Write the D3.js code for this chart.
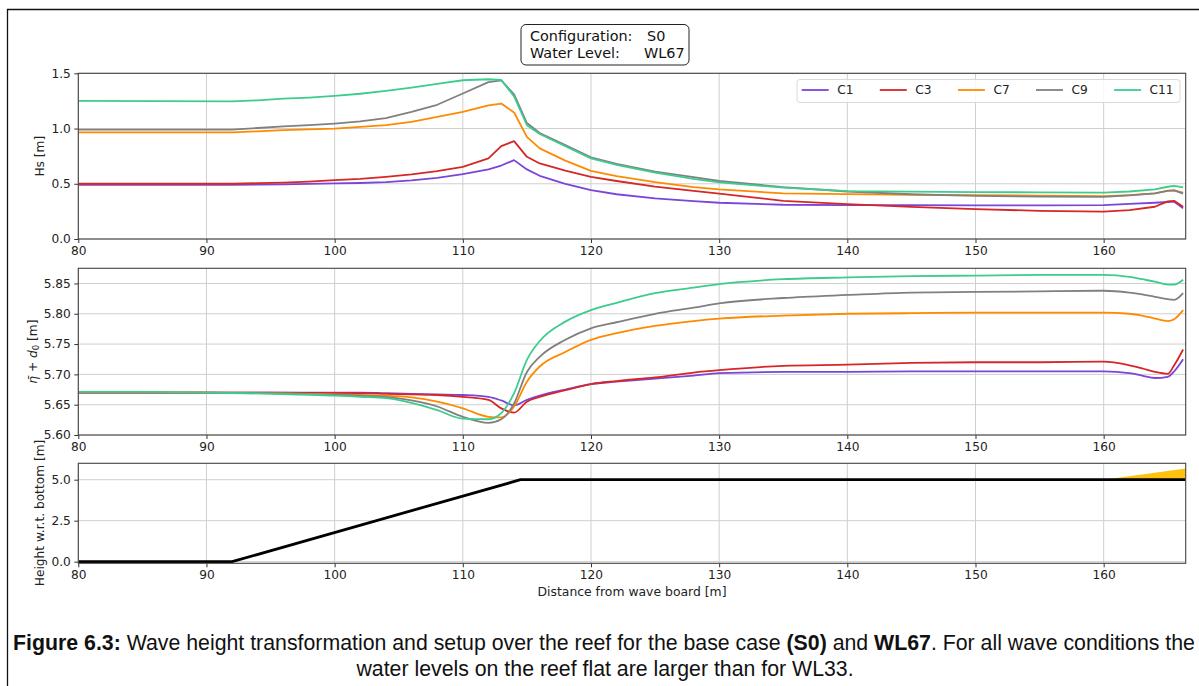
<!DOCTYPE html>
<html>
<head>
<meta charset="utf-8">
<script src="https://cdn.jsdelivr.net/npm/d3@7"></script>
<style>
  body { margin: 0; background: #fff; }
  svg { display: block; font-family: "DejaVu Sans", sans-serif; }
  .caption { font-family: "Liberation Sans", Arial, sans-serif; }
</style>
</head>
<body>
<svg id="fig" width="1199" height="686"></svg>
<script>
// ---- data ---------------------------------------------------------------
// significant wave height Hs [m] along the flume
const hsX   = [80, 92, 94, 96, 98, 100, 102, 104, 106, 108, 110, 112, 113, 114, 115, 116, 118, 120, 122, 125, 128, 130, 135, 140, 145, 150, 155, 160, 162, 164, 165, 165.5, 166.2];
const hsC1  = [0.49, 0.49, 0.492, 0.495, 0.499, 0.503, 0.507, 0.515, 0.53, 0.554, 0.587, 0.63, 0.665, 0.714, 0.63, 0.572, 0.50, 0.443, 0.405, 0.368, 0.342, 0.328, 0.31, 0.307, 0.306, 0.305, 0.305, 0.307, 0.318, 0.328, 0.335, 0.338, 0.277];
const hsC3  = [0.50, 0.50, 0.505, 0.51, 0.52, 0.533, 0.545, 0.563, 0.585, 0.614, 0.653, 0.729, 0.84, 0.886, 0.744, 0.684, 0.62, 0.563, 0.525, 0.475, 0.435, 0.41, 0.346, 0.316, 0.29, 0.271, 0.255, 0.247, 0.262, 0.292, 0.34, 0.346, 0.292];
const hsC7  = [0.965, 0.965, 0.975, 0.985, 0.993, 1.0, 1.015, 1.03, 1.06, 1.105, 1.15, 1.21, 1.226, 1.145, 0.925, 0.82, 0.71, 0.617, 0.57, 0.515, 0.47, 0.449, 0.413, 0.407, 0.40, 0.398, 0.393, 0.389, 0.398, 0.413, 0.437, 0.44, 0.42];
const hsC9  = [0.99, 0.99, 1.005, 1.02, 1.03, 1.045, 1.065, 1.095, 1.15, 1.215, 1.317, 1.42, 1.435, 1.31, 1.05, 0.96, 0.85, 0.74, 0.68, 0.61, 0.56, 0.525, 0.47, 0.43, 0.405, 0.39, 0.384, 0.382, 0.395, 0.413, 0.435, 0.44, 0.41];
const hsC11 = [1.25, 1.245, 1.255, 1.27, 1.28, 1.295, 1.315, 1.34, 1.37, 1.405, 1.437, 1.446, 1.44, 1.29, 1.03, 0.95, 0.84, 0.73, 0.67, 0.60, 0.545, 0.512, 0.465, 0.434, 0.428, 0.425, 0.422, 0.419, 0.43, 0.449, 0.473, 0.48, 0.467];

// mean water level plus still water depth [m]
const wlX   = [80, 85, 90, 95, 100, 102, 104, 106, 108, 110, 112, 113, 114, 115, 116, 118, 120, 122, 125, 128, 130, 135, 140, 145, 150, 155, 160, 162, 163, 164, 165, 165.5, 166.2];
const wlC1  = [5.670, 5.670, 5.670, 5.670, 5.670, 5.670, 5.669, 5.668, 5.667, 5.666, 5.663, 5.657, 5.649, 5.658, 5.665, 5.675, 5.684, 5.688, 5.693, 5.698, 5.702, 5.704, 5.704, 5.705, 5.705, 5.705, 5.705, 5.702, 5.698, 5.694, 5.696, 5.705, 5.725];
const wlC3  = [5.670, 5.670, 5.670, 5.670, 5.669, 5.669, 5.668, 5.667, 5.666, 5.663, 5.658, 5.644, 5.637, 5.655, 5.663, 5.674, 5.684, 5.689, 5.695, 5.703, 5.707, 5.714, 5.716, 5.719, 5.720, 5.720, 5.721, 5.715, 5.710, 5.704, 5.701, 5.715, 5.741];
const wlC7  = [5.670, 5.670, 5.670, 5.669, 5.667, 5.666, 5.665, 5.662, 5.655, 5.644, 5.630, 5.629, 5.647, 5.688, 5.713, 5.737, 5.757, 5.768, 5.780, 5.788, 5.792, 5.797, 5.800, 5.801, 5.802, 5.802, 5.802, 5.800, 5.797, 5.792, 5.788, 5.791, 5.806];
const wlC9  = [5.670, 5.670, 5.670, 5.669, 5.666, 5.665, 5.663, 5.657, 5.647, 5.630, 5.620, 5.626, 5.652, 5.704, 5.729, 5.757, 5.776, 5.786, 5.800, 5.810, 5.817, 5.826, 5.831, 5.835, 5.836, 5.837, 5.838, 5.835, 5.832, 5.828, 5.824, 5.823, 5.834];
const wlC11 = [5.671, 5.671, 5.670, 5.668, 5.665, 5.663, 5.661, 5.653, 5.641, 5.627, 5.626, 5.636, 5.669, 5.724, 5.755, 5.787, 5.806, 5.818, 5.834, 5.843, 5.849, 5.857, 5.860, 5.862, 5.863, 5.864, 5.864, 5.861, 5.857, 5.853, 5.848, 5.848, 5.856];

// reef profile (height above flume bottom) and the beach wedge behind the flat
const bedX = [80, 92, 114.5, 166.4];
const bedZ = [0, 0, 5, 5];
const beachX   = [160, 166.4];
const beachTop = [5.0, 5.68];
const beachBot = [5.0, 5.0];

const caseNames  = ["C1", "C3", "C7", "C9", "C11"];
const caseColors = ["#7b45d9", "#d62728", "#ff8a00", "#808080", "#3dcc8e"];
const hsSeries   = [hsC1, hsC3, hsC7, hsC9, hsC11];
const wlSeries   = [wlC1, wlC3, wlC7, wlC9, wlC11];

const xTicks   = [80, 90, 100, 110, 120, 130, 140, 150, 160];
const hsTicks  = [0, 0.5, 1.0, 1.5];
const wlTicks  = [5.60, 5.65, 5.70, 5.75, 5.80, 5.85];
const bedTicks = [0, 2.5, 5.0];

// ---- layout -------------------------------------------------------------
const svg = d3.select("#fig");
const left = 78.3, right = 1185.7;
const x = d3.scaleLinear().domain([80, 166.4]).range([left, right]);

const panels = [
  { top: 73.3,  bottom: 239,   domain: [0, 1.5],      ticks: hsTicks,  fmt: d3.format(".1f") },
  { top: 268.3, bottom: 435,   domain: [5.60, 5.875], ticks: wlTicks,  fmt: d3.format(".2f") },
  { top: 463.3, bottom: 563.3, domain: [-0.1, 6.0],   ticks: bedTicks, fmt: d3.format(".1f") }
];
panels.forEach(p => { p.y = d3.scaleLinear().domain(p.domain).range([p.bottom, p.top]); });

// figure frame
svg.append("path").attr("d", "M7.5,686 V9.5 H1199").attr("fill", "none").attr("stroke", "#111").attr("stroke-width", 1.3);

panels.forEach((p, i) => {
  const g = svg.append("g");
  const clipId = "clip" + i;
  svg.append("clipPath").attr("id", clipId).append("rect")
    .attr("x", left).attr("y", p.top).attr("width", right - left).attr("height", p.bottom - p.top);
  p.clip = "url(#" + clipId + ")";

  // grid
  g.selectAll(".gx").data(xTicks).join("line")
    .attr("x1", d => x(d)).attr("x2", d => x(d)).attr("y1", p.top).attr("y2", p.bottom)
    .attr("stroke", "#cfcfcf").attr("stroke-width", 1);
  g.selectAll(".gy").data(p.ticks).join("line")
    .attr("x1", left).attr("x2", right).attr("y1", d => p.y(d)).attr("y2", d => p.y(d))
    .attr("stroke", "#cfcfcf").attr("stroke-width", 1);

  // axes
  const ax = svg.append("g").attr("transform", `translate(0,${p.bottom})`)
    .call(d3.axisBottom(x).tickValues(xTicks).tickFormat(d3.format("d")).tickSize(4).tickPadding(3));
  const ay = svg.append("g").attr("transform", `translate(${left},0)`)
    .call(d3.axisLeft(p.y).tickValues(p.ticks).tickFormat(p.fmt).tickSize(4).tickPadding(3.5));
  [ax, ay].forEach(a => {
    a.attr("font-family", null).attr("font-size", null);
    a.select(".domain").remove();
    a.selectAll("line").attr("stroke", "#333");
    a.selectAll("text").style("font-size", "12.2px").attr("fill", "#222");
  });
  p.g = svg.append("g").attr("clip-path", p.clip);
  p.frame = () => svg.append("rect").attr("x", left).attr("y", p.top)
    .attr("width", right - left).attr("height", p.bottom - p.top)
    .attr("fill", "none").attr("stroke", "#444").attr("stroke-width", 1.1);
});

// ---- Hs panel -----------------------------------------------------------
const P0 = panels[0];
const lineHs = d3.line().x((d, i) => x(hsX[i])).y(d => P0.y(d));
hsSeries.forEach((s, k) => {
  P0.g.append("path").attr("d", lineHs(s)).attr("fill", "none")
    .attr("stroke", caseColors[k]).attr("stroke-width", 1.8).attr("stroke-linejoin", "round");
});
P0.frame();

// ---- setup panel --------------------------------------------------------
const P1 = panels[1];
const lineWl = d3.line().x((d, i) => x(wlX[i])).y(d => P1.y(d)).curve(d3.curveMonotoneX);
wlSeries.forEach((s, k) => {
  P1.g.append("path").attr("d", lineWl(s)).attr("fill", "none")
    .attr("stroke", caseColors[k]).attr("stroke-width", 1.8).attr("stroke-linejoin", "round");
});
P1.frame();

// ---- bed profile panel --------------------------------------------------
const P2 = panels[2];
const beachArea = d3.area().x((d, i) => x(beachX[i])).y0((d, i) => P2.y(beachBot[i])).y1(d => P2.y(d));
P2.g.append("path").attr("d", beachArea(beachTop)).attr("fill", "#ffc20e");
const bedLine = d3.line().x((d, i) => x(bedX[i])).y(d => P2.y(d));
P2.g.append("path").attr("d", bedLine(bedZ)).attr("fill", "none")
  .attr("stroke", "#000").attr("stroke-width", 2.8).attr("stroke-linejoin", "round");
P2.frame();

// ---- axis labels --------------------------------------------------------
function yLabel(cx, cy) {
  return svg.append("text").attr("transform", `translate(${cx},${cy}) rotate(-90)`)
    .attr("text-anchor", "middle").attr("dominant-baseline", "middle")
    .style("font-size", "12.2px").attr("fill", "#222");
}
yLabel(40, (P0.top + P0.bottom) / 2).text("Hs [m]");
const lbl = yLabel(33, (P1.top + P1.bottom) / 2);
lbl.append("tspan").attr("font-style", "italic").text("\u03b7\u0304");
lbl.append("tspan").text(" + ");
lbl.append("tspan").attr("font-style", "italic").text("d");
lbl.append("tspan").style("font-size", "8.5px").attr("dy", 2.5).text("0");
lbl.append("tspan").attr("dy", -2.5).text(" [m]");
yLabel(40, 513).text("Height w.r.t. bottom [m]");

svg.append("text").attr("x", (left + right) / 2).attr("y", 596)
  .attr("text-anchor", "middle").style("font-size", "12.4px").attr("fill", "#222")
  .text("Distance from wave board [m]");

// ---- legend -------------------------------------------------------------
const leg = svg.append("g");
leg.append("rect").attr("x", 797).attr("y", 79.5).attr("width", 383).attr("height", 23).attr("rx", 3)
  .attr("fill", "#fff").attr("fill-opacity", 0.85).attr("stroke", "#d9d9d9");
caseNames.forEach((n, k) => {
  const x0 = 801.7 + k * 78.1;
  leg.append("line").attr("x1", x0).attr("x2", x0 + 27).attr("y1", 90).attr("y2", 90)
    .attr("stroke", caseColors[k]).attr("stroke-width", 1.8);
  leg.append("text").attr("x", x0 + 35.5).attr("y", 94.4).style("font-size", "12.2px").attr("fill", "#222").text(n);
});

// ---- case annotation box ------------------------------------------------
svg.append("rect").attr("x", 521).attr("y", 24.5).attr("width", 168).attr("height", 40.5).attr("rx", 5)
  .attr("fill", "#fff").attr("stroke", "#222").attr("stroke-width", 1);
const ann = [["Configuration:", 530, 41, "S0", 647], ["Water Level:", 530, 58.3, "WL67", 644]];
ann.forEach(a => {
  svg.append("text").attr("x", a[1]).attr("y", a[2]).style("font-size", "14.4px").attr("fill", "#111").text(a[0]);
  svg.append("text").attr("x", a[4]).attr("y", a[2]).style("font-size", "14.4px").attr("fill", "#111").text(a[3]);
});

// ---- caption ------------------------------------------------------------
const cap1 = svg.append("text").attr("class", "caption").attr("x", 604).attr("y", 650)
  .attr("text-anchor", "middle").style("font-size", "21.3px").attr("fill", "#111");
const parts = [["Figure 6.3:", true], [" Wave height transformation and setup over the reef for the base case ", false],
  ["(S0)", true], [" and ", false], ["WL67", true], [". For all wave conditions the", false]];
parts.forEach(pt => cap1.append("tspan").attr("font-weight", pt[1] ? "bold" : "normal").text(pt[0]));
svg.append("text").attr("class", "caption").attr("x", 605).attr("y", 676).attr("text-anchor", "middle")
  .style("font-size", "21.3px").attr("fill", "#111")
  .text("water levels on the reef flat are larger than for WL33.");
</script>
</body>
</html>
